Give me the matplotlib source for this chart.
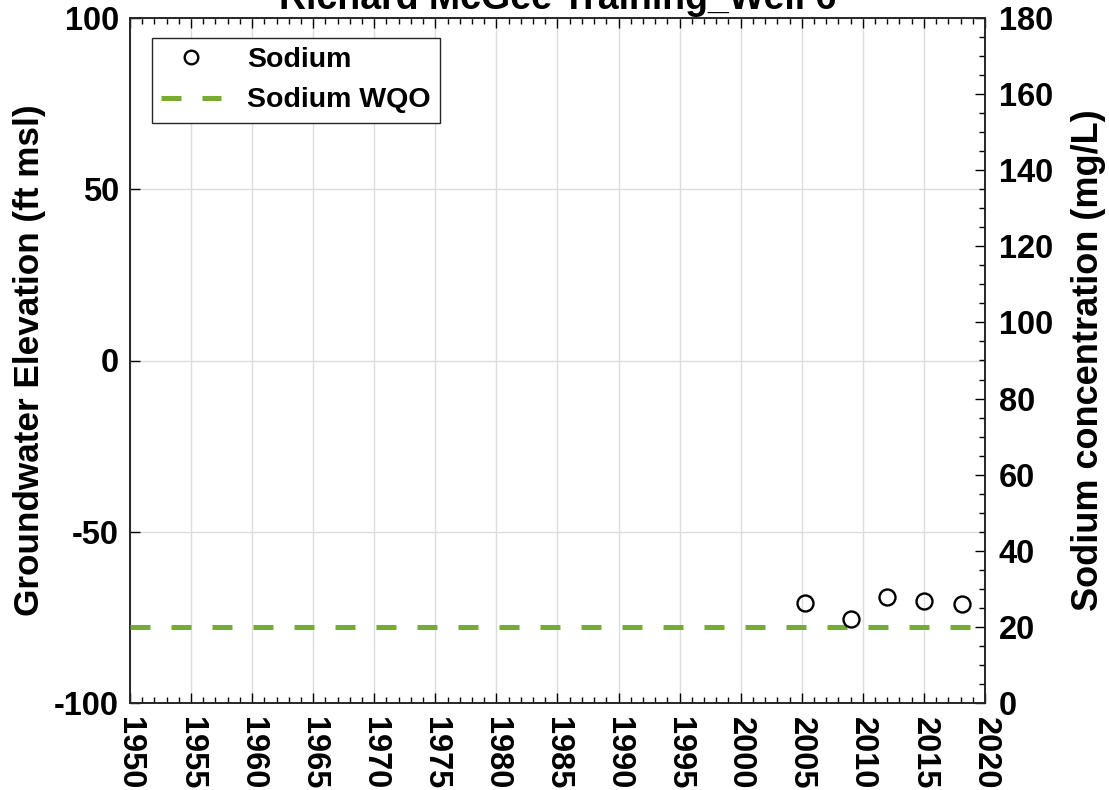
import numpy as np
import matplotlib
matplotlib.use("Agg")
import matplotlib.pyplot as plt

# ---- data ----
title = "Richard McGee Training_Well 6"
sample_years = [2005.25, 2009.05, 2012.0, 2015.0, 2018.15]
sodium_mgL = [26.2, 22.0, 27.9, 26.9, 25.9]
wqo_years = [1950, 2020]
wqo_mgL = [20, 20]

x_ticks = list(range(1950, 2021, 5))
left_ticks = [-100, -50, 0, 50, 100]
right_ticks = list(range(0, 181, 20))

wqo_green = "#77AC30"

plt.rcParams["font.family"] = ["Liberation Sans", "DejaVu Sans"]
plt.rcParams["font.weight"] = "bold"

TICK_FS = 23.5

fig = plt.figure(figsize=(11.09, 7.90), dpi=100)
ax = fig.add_axes([130 / 1109, 1 - 703 / 790, 855 / 1109, 685 / 790])
ax2 = ax.twinx()

# left axis: groundwater elevation (no data in this well)
ax.set_xlim(1950, 2020)
ax.set_ylim(-100, 100)
ax.set_xticks(x_ticks)
ax.set_xticks(np.arange(1950, 2021, 1), minor=True)
ax.set_yticks(left_ticks)
ax.set_xticklabels([str(t) for t in x_ticks], rotation=-90, fontsize=TICK_FS, fontweight="bold")
ax.set_yticklabels([str(t) for t in left_ticks], fontsize=TICK_FS, fontweight="bold")
ax.tick_params(axis="x", which="both", direction="in", top=True, pad=10)
ax.tick_params(axis="x", which="major", length=7, width=1)
ax.tick_params(axis="x", which="minor", length=4, width=1)
ax.tick_params(axis="y", which="major", direction="in", length=7, width=1, pad=8)
ax.grid(True, which="major", color="#dcdcdc", linewidth=1)
ax.set_axisbelow(True)
ax.set_ylabel("Groundwater Elevation (ft msl)", fontsize=25.3, fontweight="bold", labelpad=6)

# right axis: sodium
ax2.set_ylim(0, 180)
ax2.set_yticks(right_ticks)
ax2.set_yticks(np.arange(0, 181, 5), minor=True)
ax2.set_yticklabels([str(t) for t in right_ticks], fontsize=TICK_FS, fontweight="bold")
ax2.tick_params(axis="y", which="major", direction="in", length=7, width=1, pad=10)
ax2.tick_params(axis="y", which="minor", direction="in", length=4, width=1)
ax2.set_ylabel("Sodium concentration (mg/L)", fontsize=26, fontweight="bold", labelpad=13)

pts, = ax2.plot(sample_years, sodium_mgL, linestyle="none", marker="o", markersize=11.5,
                markerfacecolor="none", markeredgecolor="black", markeredgewidth=1.7,
                label="Sodium", clip_on=False, zorder=5)
wqo, = ax2.plot(wqo_years, wqo_mgL, color=wqo_green, linewidth=3.6, dashes=(4.0, 4.2),
                label="Sodium WQO", zorder=4)

for a in (ax, ax2):
    for s in a.spines.values():
        s.set_linewidth(1.2)
        s.set_color("#262626")

leg = ax2.legend(handles=[pts, wqo], loc="upper left", bbox_to_anchor=(0.0257, 0.971),
                 borderaxespad=0, prop={"weight": "bold", "size": 20.5},
                 frameon=True, fancybox=False, edgecolor="#262626", framealpha=1,
                 handlelength=2.1, handletextpad=0.9, labelspacing=0.5, markerscale=0.85,
                 borderpad=0.33)
leg.get_frame().set_linewidth(1)

ax.set_title(title, fontsize=27, fontweight="bold", pad=6.5)

fig.savefig("out.png", dpi=100)
